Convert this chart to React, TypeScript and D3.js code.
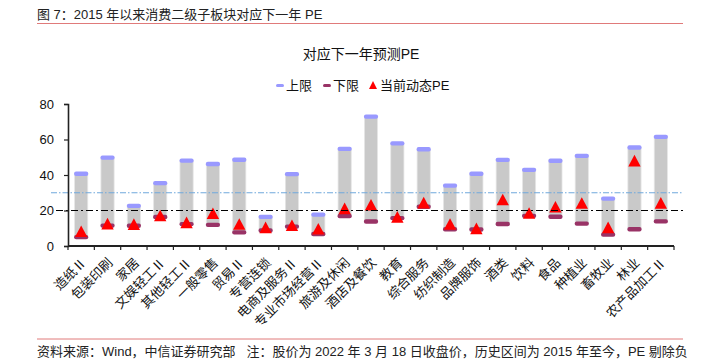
import * as d3 from 'd3';
import React, { useEffect, useRef } from 'react';

// 消费二级子板块：历史区间上下限 + 当前动态PE
const categories = [
  '造纸Ⅱ', '包装印刷', '家居', '文娱轻工Ⅱ', '其他轻工Ⅱ', '一般零售', '贸易Ⅱ', '专营连锁',
  '电商及服务Ⅱ', '专业市场经营Ⅱ', '旅游及休闲', '酒店及餐饮', '教育', '综合服务', '纺织制造',
  '品牌服饰', '酒类', '饮料', '食品', '种植业', '畜牧业', '林业', '农产品加工Ⅱ',
];
const upper = [40.7, 49.8, 22.6, 35.4, 48.1, 46.2, 48.6, 16.4, 40.5, 17.7, 54.7, 72.9, 57.8, 54.5, 34.0, 40.7, 48.5, 42.9, 48.0, 50.8, 26.7, 55.5, 61.5];
const lower = [5.0, 11.5, 11.4, 16.3, 12.3, 11.9, 7.7, 8.7, 10.9, 6.8, 16.9, 13.8, 15.7, 22.1, 9.4, 9.3, 12.4, 17.0, 16.5, 12.6, 6.4, 9.4, 13.9];
const current = [8.2, 12.5, 12.2, 17.1, 13.2, 18.3, 12.3, 10.4, 11.6, 9.6, 21.1, 23.1, 16.3, 24.3, 12.3, 9.8, 26.1, 18.5, 22.0, 24.1, 10.4, 48.0, 24.2];
const yTicks = [0, 20, 40, 60, 80];
const refLines = [
  { value: 30, color: '#6fa8dc', dash: '6,2,1.5,2', width: 1, from: 51, to: 683 },
  { value: 20, color: '#000000', dash: '7,3,2,3', width: 1.2, from: 56, to: 686 },
];

const font = '"Liberation Sans", Arial, "Noto Sans CJK SC", sans-serif';

const App = () => {
  const ref = useRef<SVGSVGElement | null>(null);
  const W = 701;
  const H = 362;
  const margin = { left: 68, right: 27, top: 104, bottom: 116 };

  useEffect(() => {
    const svg = d3.select(ref.current);
    svg.selectAll('*').remove();

    const x = d3.scaleBand<string>()
      .domain(categories)
      .range([margin.left, W - margin.right])
      .paddingInner(0)
      .paddingOuter(0);
    const y = d3.scaleLinear().domain([0, 80]).range([H - margin.bottom, margin.top]);
    const barW = x.bandwidth() * 0.5;

    // header
    svg.append('text')
      .attr('x', 37).attr('y', 19)
      .style('font-size', '13px').style('font-family', font).attr('fill', '#222')
      .text('图 7：2015 年以来消费二级子板块对应下一年 PE');
    svg.append('line')
      .attr('x1', 37).attr('x2', 683).attr('y1', 23.5).attr('y2', 23.5)
      .attr('stroke', '#e07a7a').attr('stroke-width', 1);

    svg.append('text')
      .attr('x', 361).attr('y', 59).attr('text-anchor', 'middle')
      .style('font-size', '14px').style('font-family', font).attr('fill', '#111')
      .text('对应下一年预测PE');

    // legend
    const lg = svg.append('g').style('font-family', font).style('font-size', '13px');
    lg.append('rect').attr('x', 276).attr('y', 84).attr('width', 8).attr('height', 3).attr('rx', 1.5).attr('fill', '#9999ff');
    lg.append('text').attr('x', 286).attr('y', 90).text('上限').attr('fill', '#111');
    lg.append('rect').attr('x', 323).attr('y', 84).attr('width', 8).attr('height', 3).attr('rx', 1.5).attr('fill', '#993366');
    lg.append('text').attr('x', 333).attr('y', 90).text('下限').attr('fill', '#111');
    lg.append('path').attr('d', 'M373,81L377,89L369,89Z').attr('fill', '#ff0000');
    lg.append('text').attr('x', 380).attr('y', 90).text('当前动态PE').attr('fill', '#111');

    // bars
    const g = svg.append('g');
    g.selectAll('rect.bar')
      .data(categories)
      .join('rect')
      .attr('class', 'bar')
      .attr('x', d => (x(d) as number) + (x.bandwidth() - barW) / 2)
      .attr('width', barW)
      .attr('y', (d, i) => y(upper[i]))
      .attr('height', (d, i) => y(lower[i]) - y(upper[i]))
      .attr('fill', '#c9c9c9')
      .attr('stroke', '#e6e6e6')
      .attr('stroke-width', 0.8);

    // reference lines
    refLines.forEach(r => {
      svg.append('line')
        .attr('x1', r.from).attr('x2', r.to)
        .attr('y1', y(r.value)).attr('y2', y(r.value))
        .attr('stroke', r.color).attr('stroke-width', r.width)
        .attr('stroke-dasharray', r.dash);
    });

    const cx = (d: string) => (x(d) as number) + x.bandwidth() / 2;

    const caps = (vals: number[], color: string) => {
      g.append('g').selectAll('rect')
        .data(categories)
        .join('rect')
        .attr('x', d => cx(d) - barW / 2 - 0.5)
        .attr('width', barW + 1)
        .attr('y', (d, i) => y(vals[i]) - 2.2)
        .attr('height', 4.4)
        .attr('rx', 2)
        .attr('fill', color);
    };
    caps(upper, '#9999ff');
    caps(lower, '#993366');

    // current PE triangles
    g.append('g').selectAll('path')
      .data(categories)
      .join('path')
      .attr('d', (d, i) => {
        const px = cx(d);
        const py = y(current[i]);
        return `M${px},${py - 6}L${px + 6.2},${py + 5.6}L${px - 6.2},${py + 5.6}Z`;
      })
      .attr('fill', '#ff0000');

    // y axis
    const yAxis = svg.append('g')
      .attr('transform', `translate(${margin.left},0)`)
      .call(d3.axisLeft(y).tickValues(yTicks).tickSize(4).tickPadding(10));
    yAxis.select('.domain').attr('stroke', '#222').attr('stroke-width', 1.6);
    yAxis.selectAll('.tick line').attr('stroke', '#222').attr('stroke-width', 1.2);
    yAxis.selectAll('.tick text')
      .style('font-size', '13px').style('font-family', font).attr('fill', '#111');

    // x axis
    const xAxisG = svg.append('g').attr('transform', `translate(0,${y(0)})`);
    xAxisG.append('line')
      .attr('x1', margin.left).attr('x2', W - margin.right)
      .attr('stroke', '#222').attr('stroke-width', 2);
    const bounds = categories.map(d => x(d) as number).concat([W - margin.right]);
    xAxisG.selectAll('line.tk')
      .data(bounds)
      .join('line')
      .attr('class', 'tk')
      .attr('x1', d => d).attr('x2', d => d)
      .attr('y1', 0).attr('y2', 4)
      .attr('stroke', '#222').attr('stroke-width', 1.2);
    xAxisG.selectAll('text')
      .data(categories)
      .join('text')
      .attr('text-anchor', 'end')
      .attr('transform', d => `translate(${cx(d) + 6},${17.5}) rotate(-45)`)
      .style('font-size', '13px').style('font-family', font).attr('fill', '#111')
      .text(d => d);

    // footer
    svg.append('line')
      .attr('x1', 37).attr('x2', 683).attr('y1', 339).attr('y2', 339)
      .attr('stroke', '#e07a7a').attr('stroke-width', 1);
    svg.append('text')
      .attr('x', 37).attr('y', 356)
      .style('font-size', '13px').style('font-family', font).attr('fill', '#222')
      .attr('xml:space', 'preserve')
      .text('资料来源：Wind，中信证券研究部   注：股价为 2022 年 3 月 18 日收盘价，历史区间为 2015 年至今，PE 剔除负');
  }, []);

  return (
    <svg ref={ref} width={W} height={H}
      style={{ position: 'absolute', left: 0, top: 0, background: '#fff' }} />
  );
};

export default App;
